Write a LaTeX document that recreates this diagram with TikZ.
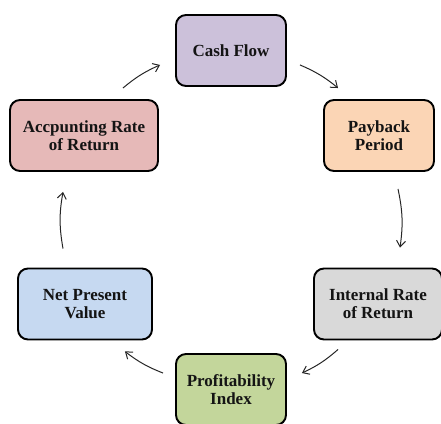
\documentclass[tikz,border=0pt]{standalone}
\usepackage{fontspec}
\setmainfont{Liberation Serif}
\usetikzlibrary{arrows.meta}

\definecolor{cashc}{HTML}{CCC1DA}
\definecolor{payc}{HTML}{FBD5B5}
\definecolor{irrc}{HTML}{D9D9D9}
\definecolor{profc}{HTML}{C3D69B}
\definecolor{npvc}{HTML}{C6D9F1}
\definecolor{arrc}{HTML}{E6B9B8}

\begin{document}
\begin{tikzpicture}[x=1pt, y=1pt,
    method/.style={rectangle, rounded corners=10pt, draw=black, line width=1.9pt,
      minimum height=71pt, align=center, inner sep=2pt, text=black!92,
      font=\fontsize{17}{18}\selectfont\bfseries},
    cyc/.style={-{Straight Barb[length=6pt, width=9pt]}, line width=1pt,
      black!85, bend left=8}]

  \useasboundingbox (0,0) rectangle (441,423);

  % the six appraisal methods, clockwise from the top
  \node[method, fill=cashc, minimum width=110pt] (cash) at (231,372.5) {Cash Flow};
  \node[method, fill=payc, minimum width=110pt] (pay) at (379,287.5) {Payback\\Period};
  \node[method, fill=irrc, minimum width=128pt] (irr) at (378,119) {Internal Rate\\of Return};
  \node[method, fill=profc, minimum width=110pt] (prof) at (231,33.5) {Profitability\\Index};
  \node[method, fill=npvc, minimum width=134pt] (npv) at (85,119) {Net Present\\Value};
  \node[method, fill=arrc, minimum width=148pt] (arr) at (84,287.5) {Accpunting Rate\\of Return};

  % arrows round the cycle
  \draw[cyc] ([shift={(13,22)}]cash.south east) to ([shift={(15,11)}]pay.north west);
  \draw[cyc, bend left=10] ([shift={(19,-17)}]pay.south) to ([shift={(22,20)}]irr.north);
  \draw[cyc] ([shift={(25,-9)}]irr.south west) to ([shift={(15,-20)}]prof.north east);
  \draw[cyc] ([shift={(-12,-20)}]prof.north west) to ([shift={(-28,-11)}]npv.south east);
  \draw[cyc, bend left=10] ([shift={(-22,19)}]npv.north) to ([shift={(-21,-20)}]arr.south);
  \draw[cyc] ([shift={(-36,11)}]arr.north east) to ([shift={(-15,22)}]cash.south west);

\end{tikzpicture}
\end{document}
